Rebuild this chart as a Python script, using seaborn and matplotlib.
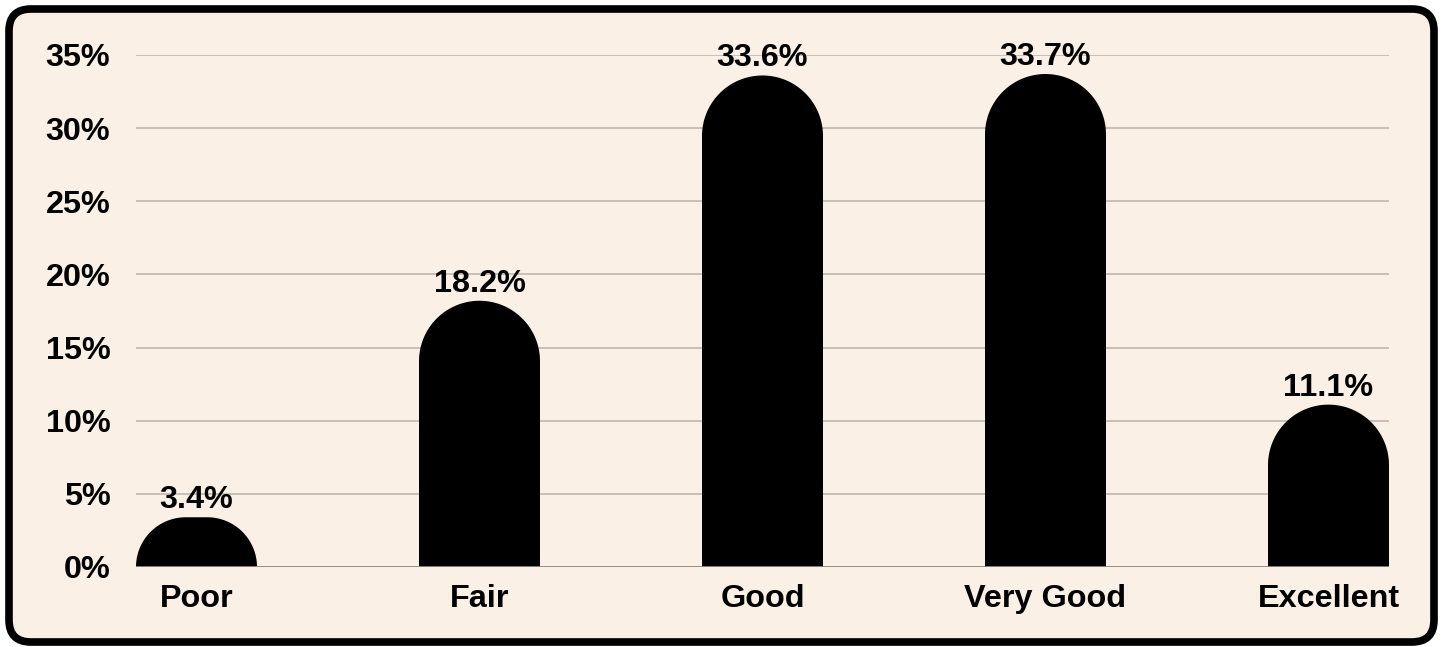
import numpy as np
import pandas as pd
import matplotlib
matplotlib.use("Agg")
import matplotlib.pyplot as plt
from matplotlib.patches import FancyBboxPatch, Polygon
from matplotlib.transforms import IdentityTransform
from matplotlib.ticker import FuncFormatter
import seaborn as sns

categories = ["Poor", "Fair", "Good", "Very Good", "Excellent"]
shares = [3.4, 18.2, 33.6, 33.7, 11.1]
y_ticks = [0, 5, 10, 15, 20, 25, 30, 35]

BG = "#FAF0E6"
GRID = "#C4BCB4"
BASE = "#8C8580"
FONT = "Liberation Sans"
FS = 23.3

sns.set_theme(style="white")
plt.rcParams["font.family"] = [FONT, "DejaVu Sans"]

W, H, DPI = 1444, 647, 100
fig = plt.figure(figsize=(W / DPI, H / DPI), dpi=DPI, facecolor="white")

# rounded card behind the chart (pixel coordinates)
card = FancyBboxPatch((9, 5), 1425, 633,
                      boxstyle="round,pad=0,rounding_size=22",
                      transform=IdentityTransform(),
                      facecolor=BG, edgecolor="black", linewidth=5.5,
                      zorder=-5)
fig.patches.append(card)

ax = fig.add_axes([136 / W, 1 - 567 / H, (1389 - 136) / W, (567 - 55) / H])
ax.set_facecolor("none")
ax.set_zorder(1)

df = pd.DataFrame({"rating": categories, "share": shares})
bw = 121 / 283
sns.barplot(data=df, x="rating", y="share", order=categories,
            color="black", width=bw, saturation=1, ax=ax, zorder=3)

ax.set_xlim(-bw / 2, len(categories) - 1 + bw / 2)
ax.set_ylim(0, 35)
ax.set_yticks(y_ticks)
ax.yaxis.set_major_formatter(FuncFormatter(lambda v, _: f"{v:.0f}%"))
ax.set_xlabel("")
ax.set_ylabel("")
for s in ax.spines.values():
    s.set_visible(False)

for t in y_ticks[1:]:
    ax.axhline(t, color=GRID, lw=1.3, zorder=1)
ax.axhline(0, color=BASE, lw=1.3, zorder=4)

ax.tick_params(axis="y", length=0, pad=18.5, labelsize=FS)
ax.tick_params(axis="x", length=0, pad=12, labelsize=FS)
for lab in ax.get_xticklabels() + ax.get_yticklabels():
    lab.set_fontweight("bold")
    lab.set_color("black")

# replace the square bars with bars whose tops are rounded
fig.canvas.draw()
ax_w_px = ax.get_window_extent().width
ax_h_px = ax.get_window_extent().height
x0l, x1l = ax.get_xlim()
px_x = ax_w_px / (x1l - x0l)
px_y = ax_h_px / 35.0

bars = list(ax.patches)
for bar in bars:
    x0 = bar.get_x()
    w = bar.get_width()
    h = bar.get_height()
    r_px = min(w * px_x / 2, h * px_y)
    rx = r_px / px_x
    ry = r_px / px_y
    t1 = np.linspace(np.pi, np.pi / 2, 40)
    t2 = np.linspace(np.pi / 2, 0, 40)
    left_arc = np.column_stack([x0 + rx + rx * np.cos(t1), h - ry + ry * np.sin(t1)])
    right_arc = np.column_stack([x0 + w - rx + rx * np.cos(t2), h - ry + ry * np.sin(t2)])
    pts = np.vstack([[x0, 0], left_arc, right_arc, [x0 + w, 0]])
    bar.remove()
    ax.add_patch(Polygon(pts, closed=True, facecolor="black",
                         edgecolor="none", zorder=3))
    ax.annotate(f"{h:.1f}%", xy=(x0 + w / 2, h), xytext=(0, 6.5),
                textcoords="offset points", ha="center", va="baseline",
                fontsize=FS, fontweight="bold", color="black",
                annotation_clip=False, zorder=5)

fig.savefig("out.png", dpi=DPI, facecolor="white")
